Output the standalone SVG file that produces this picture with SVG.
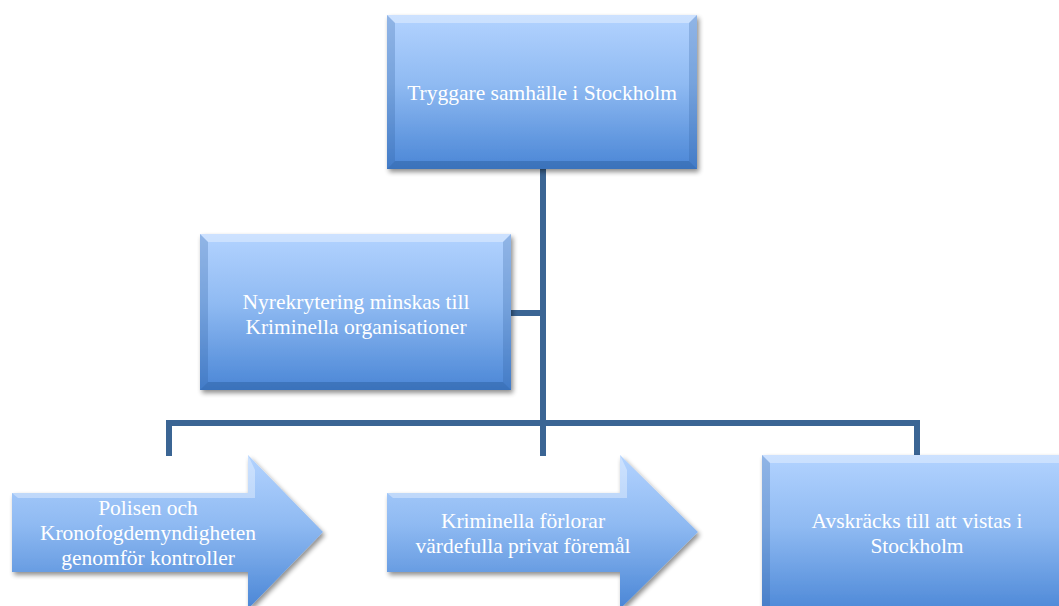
<svg xmlns="http://www.w3.org/2000/svg" width="1059" height="606" viewBox="0 0 1059 606">
<defs>
<linearGradient id="g" x1="0" y1="0" x2="0" y2="1">
<stop offset="0" stop-color="#b3d3ff"/>
<stop offset="0.45" stop-color="#8fbaf2"/>
<stop offset="1" stop-color="#4a86d6"/>
</linearGradient>
<filter id="sh" x="-10%" y="-10%" width="125%" height="125%">
<feGaussianBlur in="SourceAlpha" stdDeviation="2.5"/>
<feOffset dx="2" dy="3" result="b"/>
<feComponentTransfer><feFuncA type="linear" slope="0.45"/></feComponentTransfer>
<feMerge><feMergeNode/><feMergeNode in="SourceGraphic"/></feMerge>
</filter>
</defs>
<style>
.box{fill:url(#g);filter:url(#sh)}
.bt{fill:#ffffff;opacity:0.35}
.bs{fill:#2d5c9c;opacity:0.25}
.bb{fill:#1f4c8a;opacity:0.35}
.c{fill:none;stroke:#3b6594;stroke-width:6}
text{font-family:"Liberation Serif","DejaVu Serif",serif;font-size:21.5px;fill:#ffffff;text-anchor:middle}
</style>
<g id="connectors">
<line class="c" x1="543" y1="168" x2="543" y2="456"/>
<line class="c" x1="510" y1="313" x2="543" y2="313"/>
<polyline class="c" points="169,456 169,423 917,423 917,456"/>
<line class="c" x1="543" y1="423" x2="543" y2="456"/>
</g>
<g id="n1">
<rect class="box" x="387" y="15" width="310" height="154"/>
<polygon class="bt" points="387,15 697,15 689,23 395,23"/>
<polygon class="bs" points="387,15 395,23 395,161 387,169"/>
<polygon class="bs" points="697,15 689,23 689,161 697,169"/>
<polygon class="bb" points="387,169 395,161 689,161 697,169"/>
<text x="542" y="100">Tryggare samhälle i Stockholm</text>
</g>
<g id="n2">
<rect class="box" x="200" y="234" width="311" height="156"/>
<polygon class="bt" points="200,234 511,234 503,242 208,242"/>
<polygon class="bs" points="200,234 208,242 208,382 200,390"/>
<polygon class="bs" points="511,234 503,242 503,382 511,390"/>
<polygon class="bb" points="200,390 208,382 503,382 511,390"/>
<text x="356" y="309">Nyrekrytering minskas till</text>
<text x="356" y="334">Kriminella organisationer</text>
</g>
<g id="n3">
<polygon class="box" points="12,493 248,493 248,455 323,532 248,609 248,572 12,572"/>
<polygon class="bt" points="12,493 248,493 248,455 255,470 255,498 18,498"/>
<text x="148" y="515">Polisen och</text>
<text x="148" y="540">Kronofogdemyndigheten</text>
<text x="148" y="565">genomför kontroller</text>
</g>
<g id="n4">
<polygon class="box" points="387,493 620,493 620,455 698,532 620,609 620,572 387,572"/>
<polygon class="bt" points="387,493 620,493 620,455 627,470 627,498 393,498"/>
<text x="523" y="528">Kriminella förlorar</text>
<text x="523" y="553">värdefulla privat föremål</text>
</g>
<g id="n5">
<rect class="box" x="762" y="455" width="310" height="160"/>
<polygon class="bt" points="762,455 1072,455 1064,463 770,463"/>
<polygon class="bs" points="762,455 770,463 770,615 762,615"/>
<text x="917" y="528">Avskräcks till att vistas i</text>
<text x="917" y="553">Stockholm</text>
</g>
</svg>
